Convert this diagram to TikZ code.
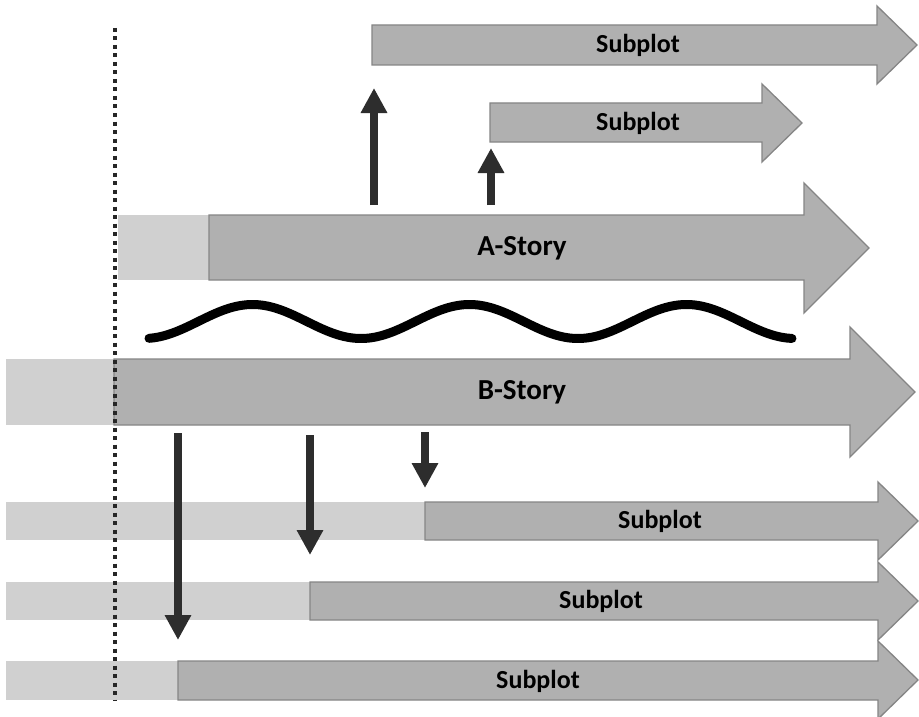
\documentclass[tikz,border=0pt]{standalone}
\usepackage{fontspec}
\setmainfont{Carlito}
\usetikzlibrary{arrows.meta}
\definecolor{darkbar}{HTML}{B0B0B0}
\definecolor{barline}{HTML}{858585}
\definecolor{lightbar}{HTML}{D0D0D0}
\definecolor{conn}{HTML}{2D2D2D}
\tikzset{
  bararrow/.style={fill=darkbar, draw=barline, line width=1.3pt, line join=miter},
  lightrect/.style={fill=lightbar, draw=none},
  lbl/.style={font=\fontsize{26}{30}\selectfont\bfseries, text=black, inner sep=0pt},
  biglbl/.style={lbl, font=\fontsize{29}{33}\selectfont\bfseries},
  linkarrow/.style={draw=conn, line width=8pt, -{Triangle[width=25pt 0 0,length=25pt 0 0]}},
  wave/.style={line width=9pt, line cap=round, black},
  timeline/.style={draw=black!85, line width=3.5pt, dash pattern=on 4pt off 4.5pt}
}
\begin{document}
\begin{tikzpicture}[x=1pt,y=-1pt]
\useasboundingbox (0,0) rectangle (919,717);
\fill[white] (0,0) rectangle (919,717);

% top subplot
\path[bararrow] (372,25) -- (877,25) -- (877,6) -- (917,45) -- (877,84) -- (877,65) -- (372,65) -- cycle;
\node[lbl] (sp1) at (638,45) {Subplot};
% second subplot
\path[bararrow] (490,103) -- (762,103) -- (762,84) -- (802,123) -- (762,162) -- (762,142) -- (490,142) -- cycle;
\node[lbl] (sp2) at (638,123) {Subplot};

% A-Story
\path[lightrect] (118,215) rectangle (209,280);
\path[bararrow] (209,215) -- (804,215) -- (804,183) -- (869,248) -- (804,313) -- (804,280) -- (209,280) -- cycle;
\node[biglbl] (astory) at (522,248) {A-Story};

% wave
\draw[wave] plot[domain=149:792, samples=120, smooth] (\x, {321.5 + 17*cos((\x-144)/217*360)});

% B-Story
\path[lightrect] (6,359) rectangle (114,425);
\path[bararrow] (114,359) -- (850,359) -- (850,327) -- (915,392) -- (850,457) -- (850,425) -- (114,425) -- cycle;
\node[biglbl] (bstory) at (522,392) {B-Story};

% lower subplots
\path[lightrect] (6,502) rectangle (425,540);
\path[bararrow] (425,502) -- (878,502) -- (878,482) -- (918,521) -- (878,560) -- (878,540) -- (425,540) -- cycle;
\node[lbl] (sp3) at (660,521) {Subplot};

\path[lightrect] (6,582) rectangle (310,620);
\path[bararrow] (310,582) -- (878,582) -- (878,562) -- (918,601) -- (878,640) -- (878,620) -- (310,620) -- cycle;
\node[lbl] (sp4) at (601,601) {Subplot};

\path[lightrect] (6,661) rectangle (178,700);
\path[bararrow] (178,661) -- (878,661) -- (878,641) -- (918,680) -- (878,719) -- (878,700) -- (178,700) -- cycle;
\node[lbl] (sp5) at (538,681) {Subplot};

% timeline
\coordinate (tltop) at (115,28);
\coordinate (tlbot) at (115,700);
\draw[timeline] (tltop) -- (tlbot);

% link arrows
\coordinate (u1s) at (374,205); \coordinate (u1e) at (374,88);
\coordinate (u2s) at (491,205); \coordinate (u2e) at (491,148);
\coordinate (d1s) at (178,433); \coordinate (d1e) at (178,640);
\coordinate (d2s) at (310,435); \coordinate (d2e) at (310,555);
\coordinate (d3s) at (425,432); \coordinate (d3e) at (425,488);
\draw[linkarrow] (u1s) -- (u1e);
\draw[linkarrow] (u2s) -- (u2e);
\draw[linkarrow] (d1s) -- (d1e);
\draw[linkarrow] (d2s) -- (d2e);
\draw[linkarrow] (d3s) -- (d3e);
\end{tikzpicture}
\end{document}
